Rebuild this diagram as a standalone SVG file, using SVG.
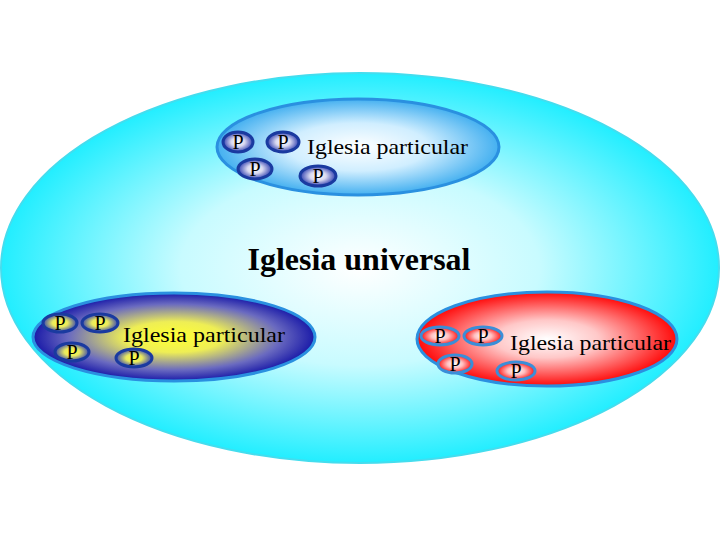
<svg xmlns="http://www.w3.org/2000/svg" width="720" height="540" viewBox="0 0 720 540">
<defs>
<radialGradient id="gBig" cx="50%" cy="50%" r="50%">
<stop offset="0" stop-color="#ffffff"/>
<stop offset="0.5" stop-color="#c8fbff"/>
<stop offset="1" stop-color="#22eeff"/>
</radialGradient>
<radialGradient id="gTop" cx="50%" cy="50%" r="50%">
<stop offset="0" stop-color="#ffffff"/>
<stop offset="0.5" stop-color="#d0eeff"/>
<stop offset="1" stop-color="#44b0f0"/>
</radialGradient>
<radialGradient id="gYel" cx="50%" cy="50%" r="50%">
<stop offset="0" stop-color="#ffff33"/>
<stop offset="0.35" stop-color="#eeee55"/>
<stop offset="0.75" stop-color="#6a6ac0"/>
<stop offset="1" stop-color="#1a1aa8"/>
</radialGradient>
<radialGradient id="gRed" cx="50%" cy="50%" r="50%">
<stop offset="0" stop-color="#ffffff"/>
<stop offset="0.4" stop-color="#ffc8c8"/>
<stop offset="1" stop-color="#ff0a0a"/>
</radialGradient>
<radialGradient id="gPTop" cx="50%" cy="50%" r="50%">
<stop offset="0" stop-color="#ffffff"/>
<stop offset="0.45" stop-color="#d8d8f0"/>
<stop offset="1" stop-color="#3040b0"/>
</radialGradient>
<radialGradient id="gPYel" cx="50%" cy="50%" r="50%">
<stop offset="0" stop-color="#ffff40"/>
<stop offset="0.45" stop-color="#e8e860"/>
<stop offset="1" stop-color="#3848b0"/>
</radialGradient>
<radialGradient id="gPRed" cx="50%" cy="50%" r="50%">
<stop offset="0" stop-color="#ffffff"/>
<stop offset="0.45" stop-color="#ffc0c0"/>
<stop offset="1" stop-color="#ff1010"/>
</radialGradient>
</defs>
<style>
.ptxt{font-family:"Liberation Serif","Times New Roman",serif;font-size:20px;fill:#000;text-anchor:middle}
.lbl{font-family:"Liberation Serif","Times New Roman",serif;font-size:22px;fill:#000}
.main{font-family:"Liberation Serif","Times New Roman",serif;font-size:31px;font-weight:bold;fill:#000;text-anchor:middle}
.pTop{fill:url(#gPTop);stroke:#1a3aa0;stroke-width:3}
.pYel{fill:url(#gPYel);stroke:#1a3aa0;stroke-width:3}
.pRed{fill:url(#gPRed);stroke:#3a8ed8;stroke-width:3}
</style>
<rect width="720" height="540" fill="#ffffff"/>
<g id="universal">
<ellipse cx="360" cy="268" rx="359" ry="195" fill="url(#gBig)" stroke="#44ddee" stroke-width="2"/>
<text class="main" x="359" y="270" textLength="223" lengthAdjust="spacingAndGlyphs">Iglesia universal</text>
</g>
<g id="particular-top">
<ellipse cx="358" cy="147" rx="141" ry="48" fill="url(#gTop)" stroke="#2a90e0" stroke-width="3"/>
<text class="lbl" x="307" y="154" textLength="161" lengthAdjust="spacingAndGlyphs">Iglesia particular</text>
<ellipse class="pTop" cx="238" cy="142" rx="15" ry="10"/><text class="ptxt" x="238" y="149">P</text>
<ellipse class="pTop" cx="283" cy="142" rx="16" ry="10"/><text class="ptxt" x="283" y="149">P</text>
<ellipse class="pTop" cx="255" cy="169" rx="17" ry="10"/><text class="ptxt" x="255" y="176">P</text>
<ellipse class="pTop" cx="318" cy="176" rx="18" ry="10"/><text class="ptxt" x="318" y="183">P</text>
</g>
<g id="particular-left">
<ellipse cx="174" cy="337" rx="141" ry="44" fill="url(#gYel)" stroke="#2a90e0" stroke-width="3"/>
<text class="lbl" x="123" y="342" textLength="162" lengthAdjust="spacingAndGlyphs">Iglesia particular</text>
<ellipse class="pYel" cx="60" cy="323" rx="17" ry="9"/><text class="ptxt" x="60" y="330">P</text>
<ellipse class="pYel" cx="100" cy="323" rx="18" ry="9"/><text class="ptxt" x="100" y="330">P</text>
<ellipse class="pYel" cx="72" cy="352" rx="17" ry="9"/><text class="ptxt" x="72" y="359">P</text>
<ellipse class="pYel" cx="134" cy="358" rx="18" ry="9"/><text class="ptxt" x="134" y="365">P</text>
</g>
<g id="particular-right">
<ellipse cx="547" cy="339" rx="130" ry="47" fill="url(#gRed)" stroke="#2a90e0" stroke-width="3"/>
<text class="lbl" x="510" y="350" textLength="161" lengthAdjust="spacingAndGlyphs">Iglesia particular</text>
<ellipse class="pRed" cx="440" cy="336" rx="19" ry="9"/><text class="ptxt" x="440" y="343">P</text>
<ellipse class="pRed" cx="483" cy="336" rx="19" ry="9"/><text class="ptxt" x="483" y="343">P</text>
<ellipse class="pRed" cx="455" cy="364" rx="17" ry="9"/><text class="ptxt" x="455" y="371">P</text>
<ellipse class="pRed" cx="516" cy="371" rx="19" ry="9"/><text class="ptxt" x="516" y="378">P</text>
</g>
<g id="connectors"/>
</svg>
